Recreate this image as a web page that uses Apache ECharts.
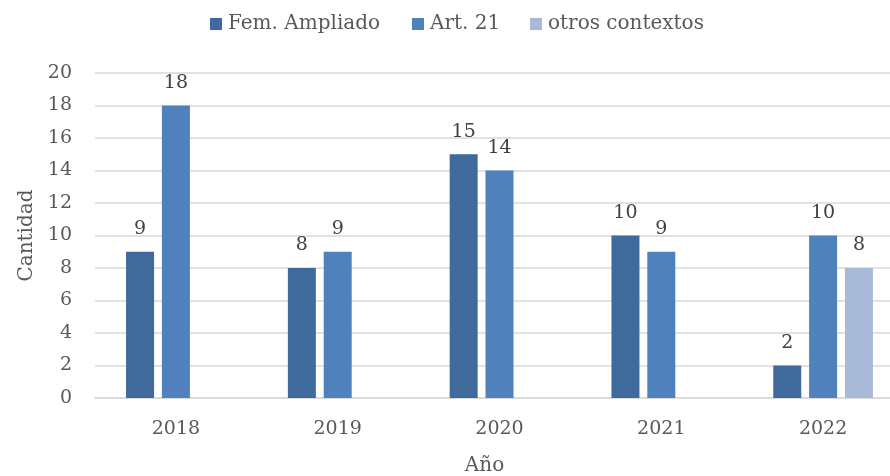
<!DOCTYPE html>
<html>
<head>
<meta charset="utf-8">
<script src="https://cdn.jsdelivr.net/npm/echarts@6/dist/echarts.min.js"></script>
<style>html,body{margin:0;padding:0;background:#fff}#c{width:890px;height:476px}</style>
</head>
<body>
<div id="c"></div>
<script>
const categories = ['2018', '2019', '2020', '2021', '2022'];
const seriesNames = ['Fem. Ampliado', 'Art. 21', 'otros contextos'];
const femAmpliado = [9, 8, 15, 10, 2];
const art21 = [18, 9, 14, 9, 10];
const otrosContextos = [null, null, null, null, 8];
const yTicks = [0, 2, 4, 6, 8, 10, 12, 14, 16, 18, 20];
const colors = ['#3e6a9c', '#4f81bd', '#a9b9d8'];
const legendLeft = [210, 412, 530];
const FONT = 'DejaVu Serif';

const chart = echarts.init(document.getElementById('c'));
const labelCfg = {
  show: true, position: 'top', distance: 13,
  color: '#404040', fontFamily: FONT, fontSize: 19,
  formatter: p => (p.value == null ? '' : p.value)
};
const values = [femAmpliado, art21, otrosContextos];
chart.setOption({
  animation: false,
  textStyle: { fontFamily: FONT },
  legend: seriesNames.map((n, i) => ({
    top: 14, left: legendLeft[i], padding: 0,
    icon: 'rect', itemWidth: 12, itemHeight: 12,
    textStyle: { color: '#595959', fontFamily: FONT, fontSize: 20, padding: [0, 0, 0, 1] },
    data: [n]
  })),
  grid: { left: 95, right: -14, top: 73, bottom: 78, containLabel: false, outerBoundsMode: 'none' },
  xAxis: {
    type: 'category', data: categories,
    name: 'Año', nameLocation: 'middle', nameGap: 58,
    nameTextStyle: { color: '#595959', fontFamily: FONT, fontSize: 20, padding: [0, 30, 0, 0] },
    axisLine: { lineStyle: { color: '#d9d9d9', width: 1.5 } },
    axisTick: { show: false },
    axisLabel: { color: '#595959', fontFamily: FONT, fontSize: 19, margin: 22 }
  },
  yAxis: {
    type: 'value', min: yTicks[0], max: yTicks[yTicks.length - 1], interval: 2,
    name: 'Cantidad', nameLocation: 'middle', nameGap: 56,
    nameTextStyle: { color: '#595959', fontFamily: FONT, fontSize: 20 },
    axisLine: { show: false }, axisTick: { show: false },
    axisLabel: { color: '#595959', fontFamily: FONT, fontSize: 19, margin: 23 },
    splitLine: { lineStyle: { color: '#d9d9d9', width: 1.5 } }
  },
  series: seriesNames.map((n, i) => ({
    name: n, type: 'bar', data: values[i],
    barWidth: 28, barGap: '28%',
    itemStyle: { color: colors[i] },
    label: labelCfg
  }))
});
</script>
</body>
</html>
